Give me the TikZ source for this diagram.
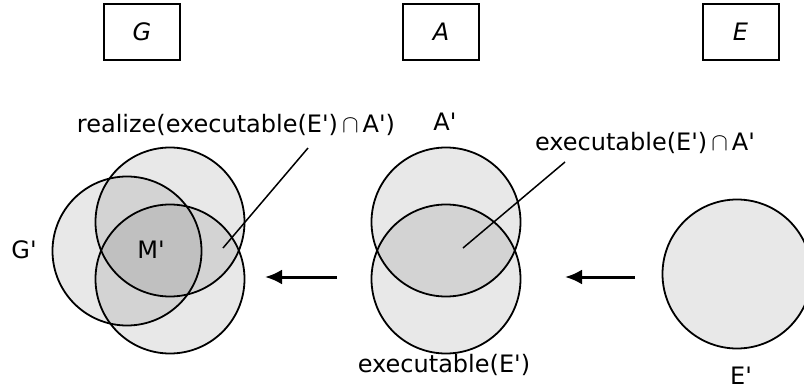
\documentclass[tikz,border=0pt]{standalone}
\usepackage{fontspec}
\setmainfont{DejaVu Sans}
\usepackage{tikz}
\usetikzlibrary{arrows.meta, positioning, calc}

\newcommand{\pr}{\textquotesingle}

\begin{document}
\begin{tikzpicture}[
    x=1pt, y=-1pt,
    boxlbl/.style={rectangle, draw, line width=2pt, minimum width=76pt, minimum height=56pt, inner sep=0pt, font=\fontsize{24}{28}\selectfont\itshape},
    setc/.style={circle, draw, line width=1.8pt, fill=black, fill opacity=0.09, draw opacity=1, text opacity=1, minimum size=149pt, inner sep=0pt},
    lbl/.style={anchor=base, inner sep=0pt, font=\fontsize{24}{28}\selectfont},
    line/.style={draw, line width=1.5pt},
    flow/.style={draw, -{Latex[length=17pt,width=15pt]}, line width=3pt}
]
    \useasboundingbox (0,0) rectangle (804,389);
    \clip (0,0) rectangle (804,389);

    % Boxes on top
    \node (gbox) [boxlbl] at (142,31.5) {G};
    \node (abox) [boxlbl] at (441,31.5) {A};
    \node (ebox) [boxlbl] at (740.5,31.5) {E};

    % Sets of G
    \node (gtop) [setc] at (170,222) {};
    \node (gleft) [setc] at (127,251) {};
    \node (gbot) [setc] at (170,279) {};

    % Sets of A
    \node (atop) [setc] at (446,222) {};
    \node (abot) [setc] at (446,279) {};

    % Set of E
    \node (eset) [setc] at (737,274) {};

    % Labels
    \node (realize) [lbl] at (236,132) {realize(executable(E\pr)\,$\cap$\,A\pr)};
    \node (aprime) [lbl] at (445,130) {A\pr};
    \node (inter) [lbl] at (645,150) {executable(E\pr)\,$\cap$\,A\pr};
    \node (gprime) [lbl] at (24,258) {G\pr};
    \node (mprime) [lbl] at (151,258) {M\pr};
    \node (exec) [lbl] at (444,372) {executable(E\pr)};
    \node (eprime) [lbl] at (741,384) {E\pr};

    % Pointer ends and arrow ends
    \coordinate (rpt) at (223,248);
    \coordinate (ipt) at (463,248);
    \coordinate (arrA) at (337,277);
    \coordinate (arrG) at (265,277);
    \coordinate (arrE) at (635,277);
    \coordinate (arrA2) at (565,277);

    % Pointers
    \path [line] ([xshift=72pt,yshift=-16pt]realize.base) -- (rpt);
    \path [line] ([xshift=-80pt,yshift=-12pt]inter.base) -- (ipt);

    % Arrows
    \path [flow] (arrA) -- (arrG);
    \path [flow] (arrE) -- (arrA2);

\end{tikzpicture}
\end{document}
